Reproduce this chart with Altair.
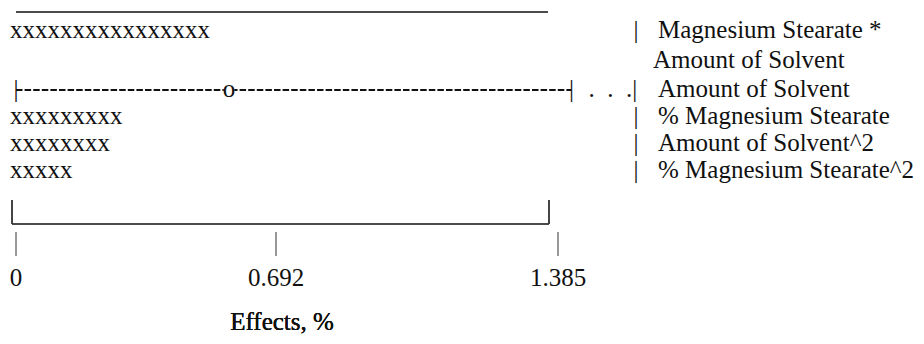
import altair as alt
import pandas as pd

# ---- data ----
ROW_LABELS = ["Magnesium Stearate *", "Amount of Solvent", "Amount of Solvent",
              "% Magnesium Stearate", "Amount of Solvent^2", "% Magnesium Stearate^2"]
ROW_LINES = [0, 1, 2, 3, 4, 5]
ROW_HAS_PIPE = [True, False, False, True, True, True]

BAR_LINES = [0, 3, 4, 5]
BAR_COUNTS = [16, 9, 8, 5]          # number of "x" characters in each bar

INTERVAL_LINE = 2
INTERVAL_LOW = 0.0
INTERVAL_MID = 0.567
INTERVAL_HIGH = 1.418

TICK_VALUES = [0, 0.692, 1.385]
TICK_LABELS = ["0", "0.692", "1.385"]
AXIS_TITLE = "Effects, %"

FONT = "Liberation Serif, Times New Roman, serif"
FS = 25
INK = "#111111"

xscale = alt.Scale(domain=[0, 0.692, 1.385], range=[8, 268, 550])
yscale = alt.Scale(domain=[0, 2, 5], range=[30, 89, 170])
X = lambda f: alt.X(f, type="quantitative", scale=xscale, axis=None)
Y = lambda f: alt.Y(f, type="quantitative", scale=yscale, axis=None)

bars = pd.DataFrame({"line": BAR_LINES, "v": [0] * len(BAR_LINES),
                     "txt": ["x" * n for n in BAR_COUNTS]})
labels = pd.DataFrame({"line": ROW_LINES, "label": ROW_LABELS, "pipe": ROW_HAS_PIPE})
interval = pd.DataFrame({"line": [INTERVAL_LINE], "lo": [INTERVAL_LOW],
                         "mid": [INTERVAL_MID], "hi": [INTERVAL_HIGH]})
ends = pd.DataFrame({"line": [INTERVAL_LINE] * 2, "v": [INTERVAL_LOW, INTERVAL_HIGH]})
ticks = pd.DataFrame({"v": TICK_VALUES, "lab": TICK_LABELS})

txt = dict(font=FONT, fontSize=FS, color=INK, baseline="alphabetic")

bar_layer = alt.Chart(bars).mark_text(align="left", dx=-6, **txt).encode(
    x=X("v"), y=Y("line"), text="txt:N")

dash_layer = alt.Chart(interval).mark_rule(
    color=INK, strokeWidth=1.8, strokeDash=[6.5, 2.1], yOffset=-7).encode(
    x=X("lo"), x2="hi", y=Y("line"))

o_bg = alt.Chart(interval).mark_point(
    shape="square", filled=True, color="white", opacity=1, size=110, yOffset=-6).encode(
    x=X("mid"), y=Y("line"))
o_layer = alt.Chart(interval).mark_text(align="center", **txt).encode(
    x=X("mid"), y=Y("line"), text=alt.value("o"))

end_layer = alt.Chart(ends).mark_text(align="center", **txt).encode(
    x=X("v"), y=Y("line"), text=alt.value("|"))

dots_layer = alt.Chart(interval).mark_text(align="left", dx=17, **txt).encode(
    x=X("hi"), y=Y("line"), text=alt.value(". \u00a0. \u00a0.|"))

pipe_layer = alt.Chart(labels).transform_filter("datum.pipe").mark_text(
    align="center", **txt).encode(
    x=alt.value(628), y=Y("line"), text=alt.value("|"))

label_layer = alt.Chart(labels).transform_filter("datum.line != 1").mark_text(
    align="left", **txt).encode(x=alt.value(650), y=Y("line"), text="label:N")
label2_layer = alt.Chart(labels).transform_filter("datum.line == 1").mark_text(
    align="left", **txt).encode(x=alt.value(645), y=Y("line"), text="label:N")

frame = dict(color="#333333", strokeWidth=1.1)
top_line = alt.Chart(ticks).mark_rule(**frame).encode(
    x=alt.value(8), x2=alt.value(540), y=alt.value(4))
box_bottom = alt.Chart(ticks).mark_rule(**frame).encode(
    x=alt.value(4), x2=alt.value(541), y=alt.value(216))
box_left = alt.Chart(ticks).mark_rule(**frame).encode(
    x=alt.value(4), y=alt.value(192), y2=alt.value(216))
box_right = alt.Chart(ticks).mark_rule(**frame).encode(
    x=alt.value(541), y=alt.value(192), y2=alt.value(216))

tick_layer = alt.Chart(ticks).mark_rule(color="#333333", strokeWidth=1).encode(
    x=X("v"), y=alt.value(224), y2=alt.value(248))
tick_lab_layer = alt.Chart(ticks).mark_text(align="center", **txt).encode(
    x=X("v"), y=alt.value(278), text="lab:N")
title_layer = alt.Chart(ticks).mark_text(align="center", **txt).encode(
    x=alt.value(274), y=alt.value(322), text=alt.value(AXIS_TITLE))

chart = alt.layer(
    top_line, box_bottom, box_left, box_right,
    bar_layer, dash_layer, o_bg, o_layer, end_layer, dots_layer,
    pipe_layer, label_layer, label2_layer,
    tick_layer, tick_lab_layer, title_layer,
).properties(
    width=908, height=328, padding=0,
    autosize=alt.AutoSizeParams(type="none"),
).configure_view(stroke=None)

chart.save("out.html", embed_options={"renderer": "svg", "actions": False})
